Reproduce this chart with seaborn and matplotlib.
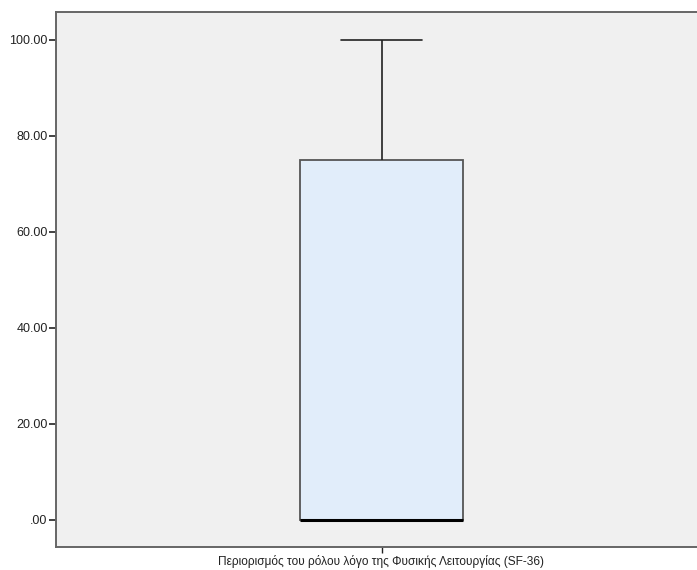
import numpy as np
import pandas as pd
import seaborn as sns
import matplotlib
matplotlib.use("Agg")
import matplotlib.pyplot as plt

# SF-36 role-physical scores and how many respondents gave each
scores = [0, 25, 50, 75, 100]
counts = [30, 6, 6, 8, 8]
variable_label = "Περιορισμός του ρόλου λόγο της Φυσικής Λειτουργίας (SF-36)"
ytick_values = [0, 20, 40, 60, 80, 100]
ytick_labels = [".00", "20.00", "40.00", "60.00", "80.00", "100.00"]

df = pd.DataFrame({
    "variable": variable_label,
    "score": np.repeat(scores, counts),
})

sns.set_style("white")
plt.rcParams["font.family"] = ["Liberation Sans", "DejaVu Sans"]

W, H = 697, 570
fig = plt.figure(figsize=(W / 100, H / 100), dpi=100)
ax = fig.add_axes([56 / W, (H - 547) / H, (707 - 56) / W, (547 - 12) / H])
ax.set_facecolor("#F0F0F0")

sns.boxplot(
    data=df, x="variable", y="score", ax=ax,
    width=0.25, color="#E1EDFA", saturation=1, fliersize=0,
    boxprops=dict(edgecolor="#555555", linewidth=1.3),
    whiskerprops=dict(color="#222222", linewidth=1.2),
    capprops=dict(color="#222222", linewidth=1.2),
    medianprops=dict(color="#000000", linewidth=2.2),
)

ax.set_xlim(-0.5, 0.5)
ax.set_ylim(-5.625, 105.83)
ax.set_yticks(ytick_values)
ax.set_yticklabels(ytick_labels)
ax.set_xlabel("")
ax.set_ylabel("")

for side in ["left", "top", "bottom"]:
    ax.spines[side].set_color("#666666")
    ax.spines[side].set_linewidth(1.4)
ax.spines["right"].set_visible(False)

ax.tick_params(axis="y", direction="out", length=5, width=1.2, color="#222222",
               labelsize=9, labelcolor="#222222", pad=1, left=True)
ax.tick_params(axis="x", direction="out", length=4, width=1.0, color="#222222",
               labelsize=8.6, labelcolor="#222222", pad=2, bottom=True)

fig.savefig("out.png", dpi=100, facecolor="white")
